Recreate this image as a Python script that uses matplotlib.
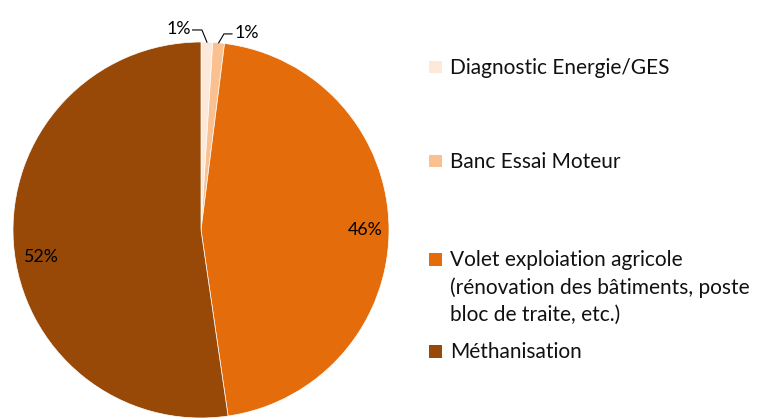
import numpy as np
import matplotlib
matplotlib.use("Agg")
import matplotlib.pyplot as plt
from matplotlib.patches import Rectangle

labels = [
    "Diagnostic Energie/GES",
    "Banc Essai Moteur",
    "Volet exploiation agricole\n(rénovation des bâtiments, poste\nbloc de traite, etc.)",
    "Méthanisation",
]
values = [1.0, 1.0, 45.7, 52.3]
pct_labels = ["1%", "1%", "46%", "52%"]
colors = ["#FDE9D9", "#FAC090", "#E46C0A", "#984807"]

plt.rcParams["font.family"] = ["Lato", "DejaVu Sans"]

fig = plt.figure(figsize=(7.65, 4.19), dpi=100)
W, H = 765, 419

# pie axes: centre (201, 230) px, radius 188 px
cx, cy, r = 201, 230, 188
ax = fig.add_axes([(cx - r) / W, (H - cy - r) / H, 2 * r / W, 2 * r / H])
wedges, _ = ax.pie(values, colors=colors, startangle=90, counterclock=False,
                   radius=1.0, wedgeprops=dict(linewidth=0.5, edgecolor="white"))
ax.set_xlim(-1, 1)
ax.set_ylim(-1, 1)
ax.set_aspect("equal")
ax.axis("off")

pct_size = 12.8

# data labels on the big slices
ax.text(0.875, 0.0, pct_labels[2], ha="center", va="center", fontsize=pct_size)
ax.text(-0.855, -0.145, pct_labels[3], ha="center", va="center", fontsize=pct_size)

# small slices with leader lines
mids = [np.deg2rad((w.theta1 + w.theta2) / 2) for w in wedges[:2]]
x0, y0 = np.cos(mids[0]), np.sin(mids[0])
ax.plot([x0, 0.005, -0.045], [y0, 1.064, 1.064], color="black", lw=0.8, clip_on=False)
ax.text(-0.055, 1.07, pct_labels[0], ha="right", va="center", fontsize=pct_size)
x1, y1 = np.cos(mids[1]), np.sin(mids[1])
ax.plot([x1, 0.122, 0.165], [y1, 1.043, 1.043], color="black", lw=0.8, clip_on=False)
ax.text(0.18, 1.05, pct_labels[1], ha="left", va="center", fontsize=pct_size)

# legend, placed by hand
baselines = [74, 168, 266, 358]
for lab, col, yb in zip(labels, colors, baselines):
    fig.patches.append(Rectangle((429 / W, (H - yb + 0.5) / H), 12.5 / W, 12.5 / H,
                                 transform=fig.transFigure, facecolor=col,
                                 edgecolor="none"))
    lines = lab.split("\n")
    for i, line in enumerate(lines):
        fig.text(450 / W, (H - yb - 27.5 * i) / H, line, fontsize=15,
                 va="baseline", ha="left", color="#111111")

fig.savefig("out.png", dpi=100)
